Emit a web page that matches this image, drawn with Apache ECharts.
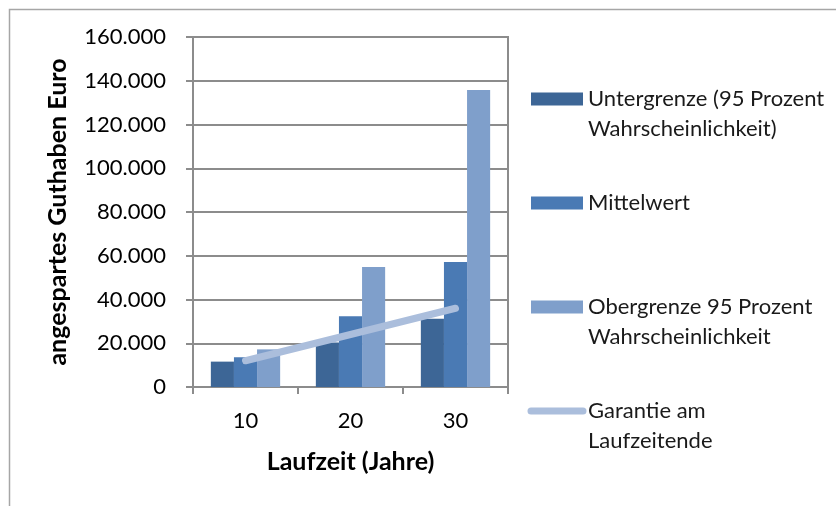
<!DOCTYPE html>
<html>
<head>
<meta charset="utf-8">
<script src="https://cdn.jsdelivr.net/npm/echarts@6/dist/echarts.min.js"></script>
<style>
  html, body { margin: 0; padding: 0; background: #fff; }
  #chart { width: 836px; height: 506px; }
</style>
</head>
<body>
<div id="chart"></div>
<script>
// Laufzeit in Jahren
const laufzeit = ['10', '20', '30'];
// Guthaben in Euro
const untergrenze = [11600, 20300, 31200];
const mittelwert = [13600, 32400, 57100];
const obergrenze = [17200, 54900, 135800];
const garantie = [12000, 24000, 36000];

const seriesNames = [
	'Untergrenze (95 Prozent\nWahrscheinlichkeit)',
	'Mittelwert',
	'Obergrenze 95 Prozent\nWahrscheinlichkeit',
	'Garantie am\nLaufzeitende'
];

const fontName = 'Lato';
const gridColor = '#8c8c8c';
const lineColor = '#abbedc';
const NB = '\u00a0';

function deFormat(v) {
	return String(v).replace(/\B(?=(\d{3})+(?!\d))/g, '.');
}

// erste Textzeile auf Höhe des Symbols, alle Einträge gleich hoch
function legendText(name) {
	if (name.indexOf('\n') >= 0) {
		return NB + '\n' + name;
	}
	return NB + '\n' + name + '\n' + NB;
}

const myChart = echarts.init(document.getElementById('chart'));

const option = {
	animation: false,
	textStyle: { fontFamily: fontName },
	graphic: [{
		type: 'rect',
		left: 7, top: 7,
		shape: { width: 850, height: 520 },
		style: { fill: 'none', stroke: '#a6a6a6', lineWidth: 1.5 },
		silent: true
	}],
	grid: {
		left: 193, right: 328, top: 37, bottom: 119,
		show: true, borderColor: gridColor, borderWidth: 2
	},
	legend: {
		orient: 'vertical',
		left: 527.5,
		top: 54,
		padding: 0,
		itemWidth: 52,
		itemHeight: 13,
		itemGap: 14,
		formatter: legendText,
		textStyle: { fontFamily: fontName, fontSize: 22, color: '#1a1a1a', lineHeight: 30 },
		data: [
			{ name: seriesNames[0], icon: 'rect' },
			{ name: seriesNames[1], icon: 'rect' },
			{ name: seriesNames[2], icon: 'rect' },
			{
				name: seriesNames[3],
				itemStyle: { opacity: 0 },
				lineStyle: { color: lineColor, width: 7, cap: 'round' }
			}
		]
	},
	xAxis: {
		type: 'category',
		data: laufzeit,
		name: 'Laufzeit (Jahre)',
		nameLocation: 'middle',
		nameGap: 62,
		nameTextStyle: { fontFamily: fontName, fontSize: 25, fontWeight: 'bold', color: '#000' },
		axisLine: { lineStyle: { color: gridColor, width: 2 } },
		axisTick: { show: true, length: 7, lineStyle: { color: gridColor, width: 2 } },
		axisLabel: { fontSize: 22, color: '#000', margin: 23 }
	},
	yAxis: {
		type: 'value',
		min: 0,
		max: 160000,
		interval: 20000,
		name: 'angespartes Guthaben Euro',
		nameLocation: 'middle',
		nameGap: 123,
		nameTextStyle: { fontFamily: fontName, fontSize: 25, fontWeight: 'bold', color: '#000' },
		axisLine: { show: true, lineStyle: { color: gridColor, width: 2 } },
		axisTick: { show: true, length: 7, lineStyle: { color: gridColor, width: 2 } },
		splitLine: { lineStyle: { color: gridColor, width: 2 } },
		axisLabel: { fontSize: 22, color: '#000', margin: 27, formatter: deFormat }
	},
	series: [
		{
			name: seriesNames[0], type: 'bar', data: untergrenze,
			barGap: '0%', barCategoryGap: '34%',
			itemStyle: { color: '#3d6696' }
		},
		{
			name: seriesNames[1], type: 'bar', data: mittelwert,
			itemStyle: { color: '#4a7ab4' }
		},
		{
			name: seriesNames[2], type: 'bar', data: obergrenze,
			itemStyle: { color: '#7f9fcb' }
		},
		{
			name: seriesNames[3], type: 'line', data: garantie,
			symbol: 'none', z: 5,
			lineStyle: { color: lineColor, width: 7, cap: 'round' },
			itemStyle: { color: lineColor }
		}
	]
};

myChart.setOption(option);
</script>
</body>
</html>
